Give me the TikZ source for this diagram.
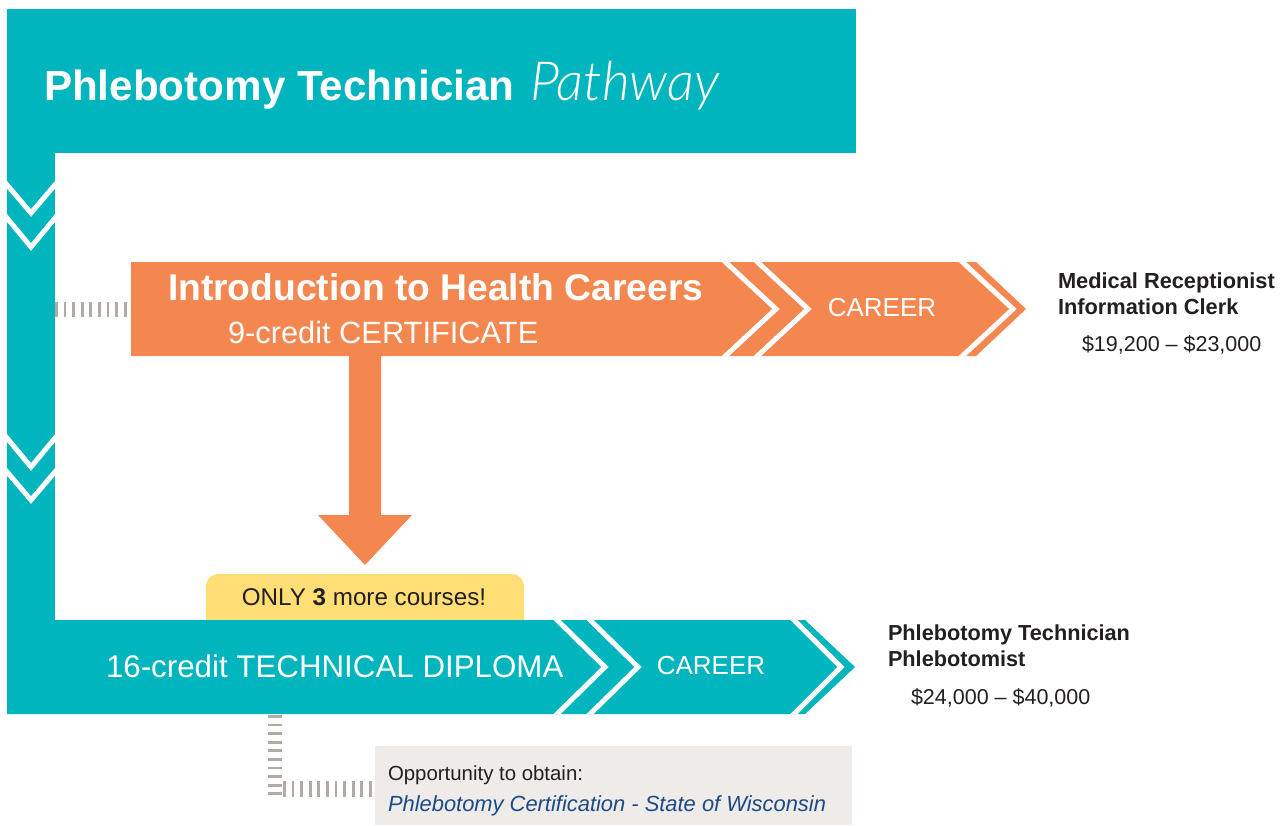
\documentclass[tikz,border=0pt]{standalone}
\usepackage{fontspec}
\setmainfont{Liberation Sans}
\IfFontExistsTF{Lato Light Italic}{\newfontfamily\handfont{Lato Light Italic}}{\newfontfamily\handfont{Liberation Sans Italic}}
\definecolor{tealc}{HTML}{00B5BD}
\definecolor{orng}{HTML}{F4874F}
\definecolor{ylw}{HTML}{FFDE75}
\definecolor{dotg}{HTML}{B5A9A3}
\definecolor{boxg}{HTML}{EFEBE8}
\definecolor{navy}{HTML}{1B4A87}
\definecolor{ink}{HTML}{231F20}
\newcommand{\fs}[1]{\fontsize{#1}{#1}\selectfont}
\begin{document}
\begin{tikzpicture}[x=1pt,y=-1pt,
  wline/.style={white,line width=5pt,line cap=butt,line join=miter},
  dotline/.style={dotg,line width=#1,dash pattern=on 2.8pt off 5.8pt},
  txt/.style={inner sep=0pt,outer sep=0pt,anchor=base west},
  wtxt/.style={txt,text=white},
  dtxt/.style={txt,text=ink}]
\useasboundingbox (0,0) rectangle (1283,825);
% header and vertical bar
\fill[tealc] (7,9) rectangle (856,153);
\fill[tealc] (7,153) rectangle (55,620);
\begin{scope}
  \clip (7,153) rectangle (55,620);
  \draw[wline] (2,179) -- (31,213) -- (60,179);
  \draw[wline] (2,212) -- (31,247) -- (60,212);
  \draw[wline] (2,432) -- (31,467) -- (60,432);
  \draw[wline] (2,466) -- (31,500) -- (60,466);
\end{scope}
\node[wtxt] (title) at (44,100) {\fs{42.2}\bfseries Phlebotomy Technician};
\node[wtxt] (pathway) at (530,100) {\fs{54}\handfont Pathway};
% orange certificate bar
\fill[orng] (131,262) -- (976,262) -- (1026,309) -- (976,356) -- (131,356) -- cycle;
\begin{scope}
  \clip (131,262) -- (976,262) -- (1026,309) -- (976,356) -- (131,356) -- cycle;
  \draw[wline] (720,257) -- (776,309) -- (720,361);
  \draw[wline] (752,257) -- (808,309) -- (752,361);
  \draw[wline] (957,257) -- (1013,309) -- (957,361);
\end{scope}
\node[wtxt] (intro) at (168,300) {\fs{37.2}\bfseries Introduction to Health Careers};
\node[wtxt] (cert) at (228,343) {\fs{30.8}9-credit CERTIFICATE};
\node[text=white,inner sep=0pt] (career1) at (882,308) {\fs{26}CAREER};
% down arrow
\fill[orng] (349,356) -- (381,356) -- (381,515) -- (412,515) -- (365,565) -- (318,515) -- (349,515) -- cycle;
% yellow tab
\fill[ylw,rounded corners=12pt] (206,574) rectangle (524,650);
\node[text=ink,inner sep=0pt,anchor=base] (only) at (364,605) {\fs{24.2}ONLY \textbf{3} more courses!};
% teal diploma bar
\fill[tealc] (7,620) -- (805,620) -- (855,667) -- (805,714) -- (7,714) -- cycle;
\begin{scope}
  \clip (7,620) -- (805,620) -- (855,667) -- (805,714) -- (7,714) -- cycle;
  \draw[wline] (552,615) -- (605,667) -- (552,719);
  \draw[wline] (585,615) -- (638,667) -- (585,719);
  \draw[wline] (789,615) -- (841,667) -- (789,719);
\end{scope}
\node[wtxt] (dipl) at (106,677) {\fs{31.3}16-credit TECHNICAL DIPLOMA};
\node[text=white,inner sep=0pt] (career2) at (711,666) {\fs{26}CAREER};
% career texts
\node[dtxt] (job1) at (1058,288) {\fs{21.8}\bfseries Medical Receptionist};
\node[dtxt] (job2) at (1058,314) {\fs{21.8}\bfseries Information Clerk};
\node[dtxt] (pay1) at (1082,351) {\fs{21.5}\$19,200 -- \$23,000};
\node[dtxt] (job3) at (888,640) {\fs{21.7}\bfseries Phlebotomy Technician};
\node[dtxt] (job4) at (888,666) {\fs{21.7}\bfseries Phlebotomist};
\node[dtxt] (pay2) at (911,704) {\fs{21.5}\$24,000 -- \$40,000};
% dotted connectors
\coordinate (barR) at (55,309);
\coordinate (certL) at (131,309);
\draw[dotline=15pt] (barR) -- (certL);
\coordinate (diplB) at (275,714);
\coordinate (corner) at (275,797);
\draw[dotline=14pt,dash phase=-1pt] (diplB) -- (corner);
% certification box
\fill[boxg] (375,746) rectangle (852,825);
\coordinate (cornerR) at (283,789);
\coordinate (boxL) at (375,789);
\draw[dotline=16pt] (cornerR) -- (boxL);
\node[dtxt,text=ink] (opp) at (388,780) {\fs{20.4}Opportunity to obtain:};
\node[txt,text=navy] (certwi) at (388,811) {\fs{21.9}\itshape Phlebotomy Certification - State of Wisconsin};
\end{tikzpicture}
\end{document}
